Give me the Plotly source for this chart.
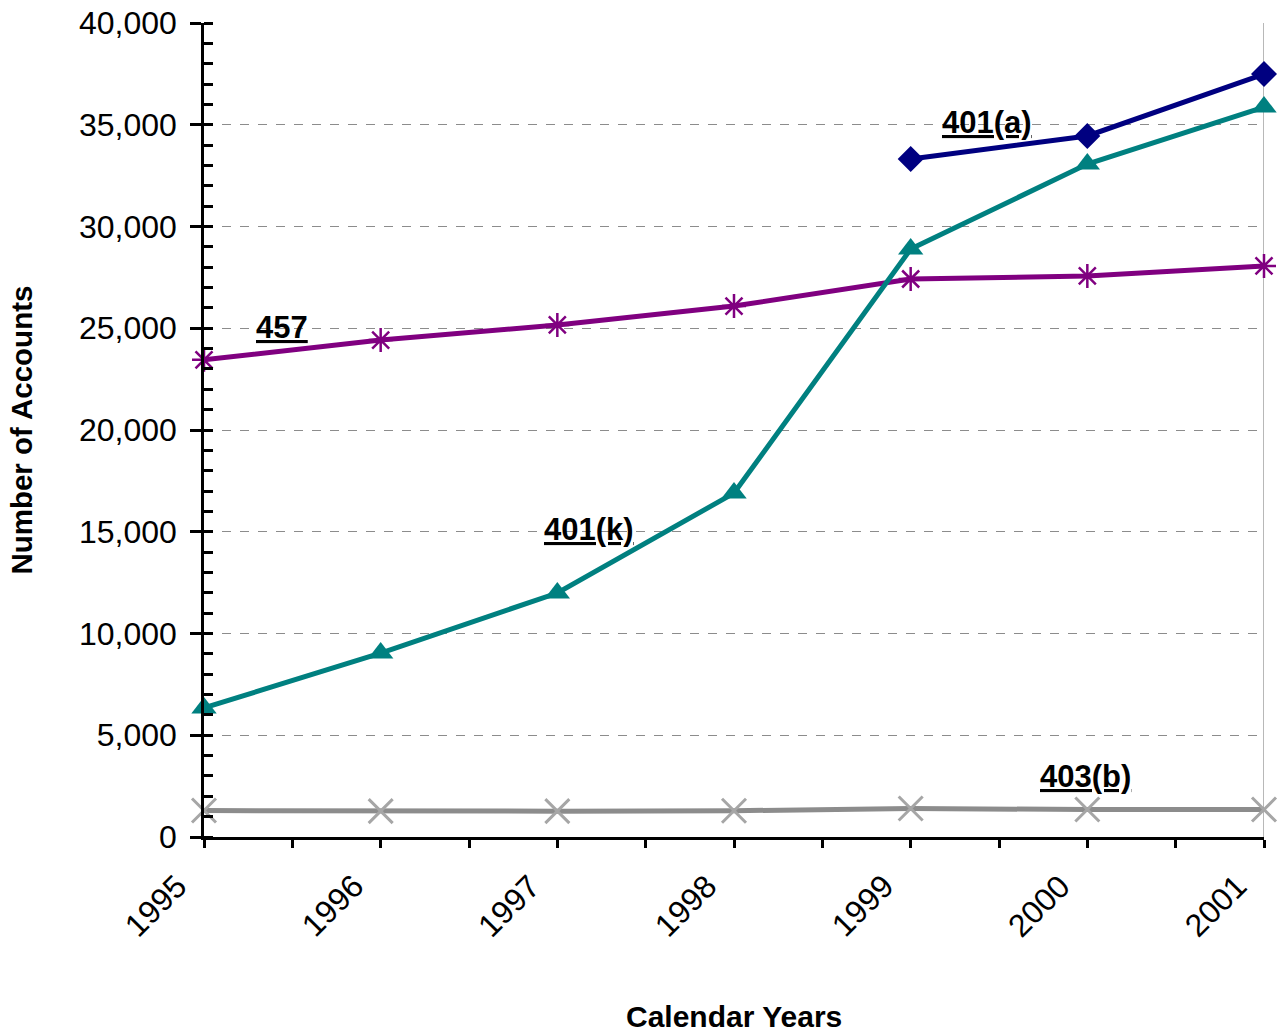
import plotly.graph_objects as go

years = [1995, 1996, 1997, 1998, 1999, 2000, 2001]
year_labels = ["1995", "1996", "1997", "1998", "1999", "2000", "2001"]
plan_457 = [23450, 24420, 25160, 26090, 27420, 27570, 28060]
plan_401k = [6340, 9040, 11990, 16900, 28890, 33070, 35870]
years_401a = [1999, 2000, 2001]
plan_401a = [33320, 34450, 37490]
plan_403b = [1300, 1270, 1270, 1290, 1400, 1350, 1350]
y_ticks = [0, 5000, 10000, 15000, 20000, 25000, 30000, 35000, 40000]
y_ticktext = ["0", "5,000", "10,000", "15,000", "20,000", "25,000", "30,000", "35,000", "40,000"]

fig = go.Figure()
fig.add_trace(go.Scatter(x=years, y=plan_403b, mode="lines+markers", name="403(b)",
                         line=dict(color="#8c8c8c", width=5),
                         marker=dict(symbol="x-thin-open", size=24, color="#a6a6a6",
                                     line=dict(color="#a6a6a6", width=3)),
                         cliponaxis=False))
fig.add_trace(go.Scatter(x=years, y=plan_457, mode="lines+markers", name="457",
                         line=dict(color="#800080", width=5),
                         marker=dict(symbol="asterisk-open", size=20, color="#800080",
                                     line=dict(color="#800080", width=2.5)),
                         cliponaxis=False))
fig.add_trace(go.Scatter(x=years, y=plan_401k, mode="lines+markers", name="401(k)",
                         line=dict(color="#008080", width=5),
                         marker=dict(symbol="triangle-up", size=22, color="#008080"),
                         cliponaxis=False))
fig.add_trace(go.Scatter(x=years_401a, y=plan_401a, mode="lines+markers", name="401(a)",
                         line=dict(color="#000080", width=5),
                         marker=dict(symbol="diamond", size=20, color="#000080"),
                         cliponaxis=False))
# invisible trace for overlay axis (major ticks crossing inside)
fig.add_trace(go.Scatter(x=[years[0]], y=[0], yaxis="y2", mode="markers",
                         marker=dict(opacity=0), showlegend=False, hoverinfo="skip"))

tick_font = dict(family="Liberation Sans", size=32, color="#000000")
fig.update_layout(
    width=1283, height=1034,
    margin=dict(l=204, r=19, t=23, b=197),
    paper_bgcolor="white", plot_bgcolor="white",
    showlegend=False,
    xaxis=dict(range=[1995, 2001], tickvals=years, showticklabels=False,
               ticks="outside", ticklen=8,
               tickwidth=2.5, tickcolor="black", showline=True, linecolor="black",
               linewidth=2.5, showgrid=False, zeroline=False, automargin=False,
               minor=dict(tickvals=[1995.5, 1996.5, 1997.5, 1998.5, 1999.5, 2000.5],
                          ticks="outside", ticklen=8, tickwidth=2.5, tickcolor="black")),
    yaxis=dict(range=[0, 40000], tickvals=y_ticks, ticktext=y_ticktext,
               tickfont=tick_font, ticks="outside", ticklen=11, tickwidth=2.5,
               tickcolor="black", showline=True, linecolor="black", linewidth=2.5,
               showgrid=True, gridcolor="#8c8c8c", griddash="dash", gridwidth=1.2,
               zeroline=False, ticklabelstandoff=7, automargin=False,
               minor=dict(dtick=1000, ticks="inside", ticklen=9, tickwidth=2.5,
                          tickcolor="black", showgrid=False)),
    yaxis2=dict(range=[0, 40000], overlaying="y", side="left", tickvals=y_ticks,
                ticks="inside", ticklen=9, tickwidth=2.5, tickcolor="black",
                showticklabels=False, showgrid=False, zeroline=False, showline=False,
                automargin=False),
)

# rotated year labels placed at each year on the axis
for yr, lab in zip(years, year_labels):
    fig.add_annotation(x=yr, y=0, xref="x", yref="y", text=lab, textangle=-45,
                       xanchor="right", yanchor="top", xshift=-8, yshift=-28,
                       showarrow=False, font=tick_font)

fig.add_shape(type="line", xref="x", yref="paper", x0=2001, x1=2001, y0=0, y1=1,
              line=dict(color="#a0a0a0", width=1.5), layer="below")

lab_font = dict(family="Liberation Sans", size=31, color="black")
for text, x, y in [("457", 1995.44, 25050), ("401(k)", 1997.18, 15100),
                   ("401(a)", 1999.43, 35100), ("403(b)", 1999.99, 2960)]:
    fig.add_annotation(x=x, y=y, xref="x", yref="y", text="<b><u>" + text + "</u></b>",
                       showarrow=False, font=lab_font)

fig.add_annotation(x=0.5, y=-0.221, xref="paper", yref="paper", xanchor="center",
                   yanchor="middle", text="<b>Calendar Years</b>", showarrow=False,
                   font=dict(family="Liberation Sans", size=30, color="black"))
fig.add_annotation(x=-0.173, y=0.5, xref="paper", yref="paper", xanchor="center",
                   yanchor="middle", text="<b>Number of Accounts</b>", showarrow=False,
                   textangle=-90, font=dict(family="Liberation Sans", size=29.5, color="black"))

fig.write_html("out.html")
